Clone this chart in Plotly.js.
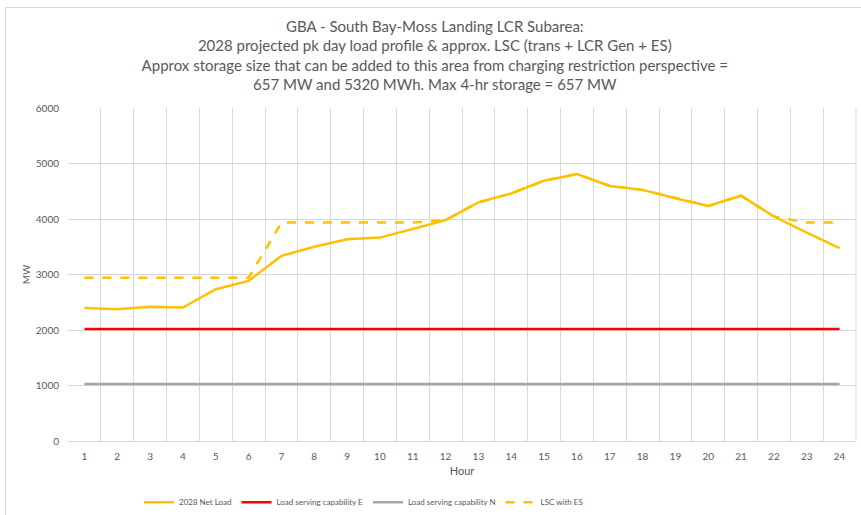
<!DOCTYPE html>
<html>
<head>
<meta charset="utf-8">
<script src="https://cdn.plot.ly/plotly-3.0.1.min.js"></script>
<style>
  html, body { margin: 0; padding: 0; background: #fff; }
  #chart { width: 861px; height: 515px; position: relative; }
  #frame { position: absolute; left: 5px; top: 7px; width: 900px; height: 600px;
           border-left: 1px solid #d9d9d9; border-top: 1px solid #d9d9d9; pointer-events: none; }
</style>
</head>
<body>
<div id="chart"></div>
<div id="frame"></div>
<script>
const hours = ["1","2","3","4","5","6","7","8","9","10","11","12","13","14","15","16","17","18","19","20","21","22","23","24"];
const netLoad = [2395, 2375, 2420, 2405, 2735, 2885, 3335, 3500, 3635, 3665, 3820, 3980, 4300, 4460, 4690, 4810, 4595, 4525, 4375, 4235, 4420, 4045, 3755, 3475];
const lscE = [2020, 2020, 2020, 2020, 2020, 2020, 2020, 2020, 2020, 2020, 2020, 2020, 2020, 2020, 2020, 2020, 2020, 2020, 2020, 2020, 2020, 2020, 2020, 2020];
const lscN = [1025, 1025, 1025, 1025, 1025, 1025, 1025, 1025, 1025, 1025, 1025, 1025, 1025, 1025, 1025, 1025, 1025, 1025, 1025, 1025, 1025, 1025, 1025, 1025];
const lscES = [2940, 2940, 2940, 2940, 2940, 2940, 3935, 3935, 3935, 3935, 3935, 3980, 4300, 4460, 4690, 4810, 4595, 4525, 4375, 4235, 4420, 4045, 3935, 3935];

const font = "Lato, 'Open Sans', sans-serif";
const grey = '#595959';

const traces = [
  { x: hours, y: netLoad, name: '2028 Net Load', type: 'scatter', mode: 'lines',
    line: { color: '#FFC000', width: 2.5 } },
  { x: hours, y: lscE, name: 'Load serving capability E', type: 'scatter', mode: 'lines',
    line: { color: '#FF0000', width: 2.5 } },
  { x: hours, y: lscN, name: 'Load serving capability N', type: 'scatter', mode: 'lines',
    line: { color: '#A5A5A5', width: 2.5 } },
  { x: hours, y: lscES, name: 'LSC with ES', type: 'scatter', mode: 'lines',
    line: { color: '#FFC000', width: 2.5, dash: 'dash' } }
];

const layout = {
  width: 861, height: 515,
  margin: { l: 68, r: 5, t: 108, b: 74 },
  paper_bgcolor: 'rgba(0,0,0,0)', plot_bgcolor: '#fff',
  font: { family: font, color: grey, size: 10 },
  title: {
    text: 'GBA - South Bay-Moss Landing LCR Subarea:<br>2028 projected pk day load profile &amp; approx. LSC (trans + LCR Gen + ES)<br>Approx storage size that can be added to this area from charging restriction perspective =<br>657 MW and 5320 MWh. Max 4-hr storage = 657 MW',
    font: { family: font, size: 15, color: grey },
    x: 0.505, xanchor: 'center', y: 0.938, yanchor: 'top'
  },
  xaxis: {
    type: 'category', tickson: 'boundaries', range: [-0.5, 23.5],
    showgrid: true, gridcolor: '#d9d9d9', gridwidth: 1,
    showline: true, linecolor: '#d9d9d9', linewidth: 1,
    ticks: '', tickfont: { family: font, size: 10, color: grey },
    ticklabelstandoff: 6,
    title: { text: 'Hour', font: { family: font, size: 11, color: grey }, standoff: 6 },
    zeroline: false, fixedrange: true
  },
  yaxis: {
    range: [0, 6000], dtick: 1000,
    showgrid: true, gridcolor: '#d9d9d9', gridwidth: 1,
    showline: false, zeroline: false, ticks: '',
    tickfont: { family: font, size: 10, color: grey },
    ticklabelstandoff: 8,
    title: { text: 'MW', font: { family: font, size: 10, color: grey }, standoff: 3 },
    fixedrange: true
  },
  showlegend: true,
  legend: {
    orientation: 'h', x: 0.375, xanchor: 'center', yref: 'container', y: 0.025, yanchor: 'middle',
    font: { family: font, size: 8, color: grey },
    itemwidth: 30, tracegroupgap: 0
  },
  shapes: [
    { type: 'line', xref: 'paper', yref: 'paper', x0: 1, x1: 1, y0: 0, y1: 1,
      line: { color: '#d9d9d9', width: 1 } }
  ]
};

Plotly.newPlot('chart', traces, layout, { displayModeBar: false, staticPlot: true });
</script>
</body>
</html>
